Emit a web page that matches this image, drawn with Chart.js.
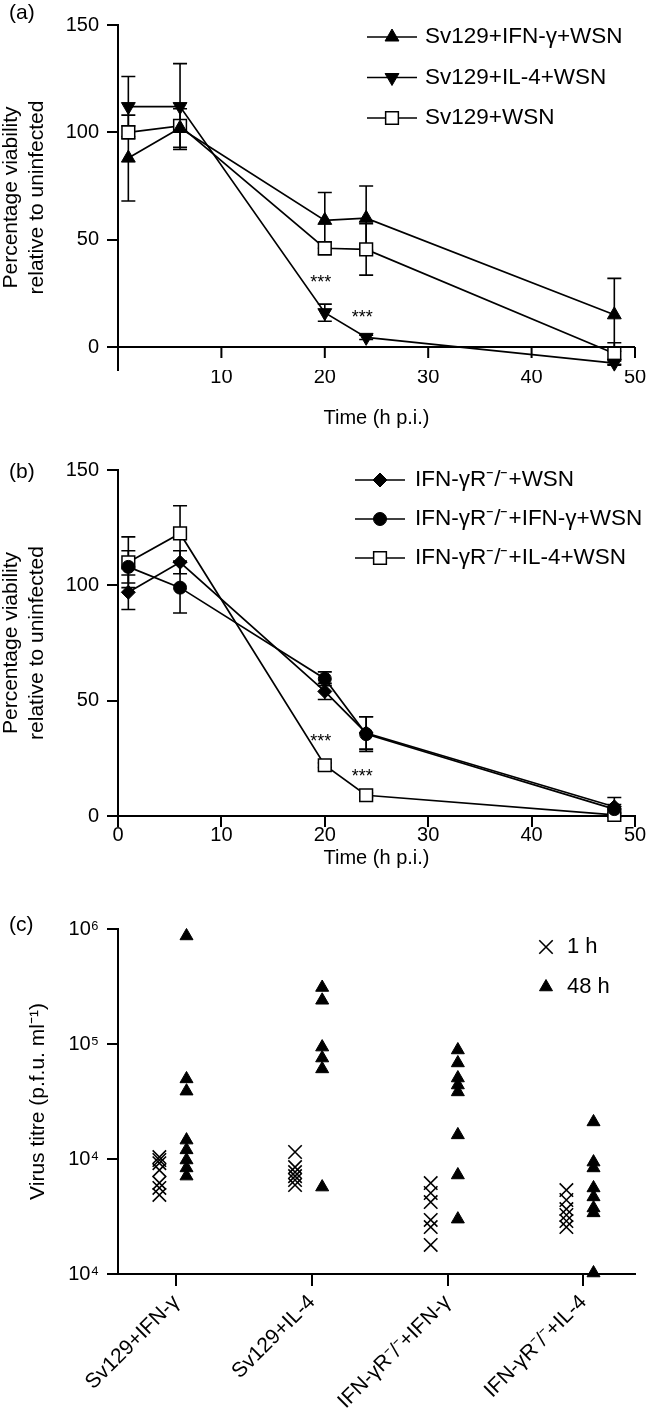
<!DOCTYPE html>
<html>
<head>
<meta charset="utf-8">
<title>Viability and virus titre</title>
<script src="https://cdn.jsdelivr.net/npm/chart.js@4.4.1/dist/chart.umd.min.js"></script>
<style>
  body { margin: 0; background: #fff; }
  canvas { display: block; }
</style>
</head>
<body>
<canvas id="chartA" width="646" height="440"></canvas>
<canvas id="chartB" width="646" height="440"></canvas>
<canvas id="chartC" width="646" height="533"></canvas>
<script>
// time points, h p.i.
const hours = [1, 6, 20, 24, 48];

// (a) Sv129 mice, % viability and SEM
const aIfng = [88, 102, 59, 60, 15];
const aIfngErr = [20, 9, 13, 15, 17];
const aIl4 = [112, 112, 16, 4.5, -7.5];
const aIl4Err = [14, 20, 4, 1, 1];
const aWsn = [100, 103, 46, 45.5, -3];
const aWsnErr = [3, 2, 3, 12, 5];
const aStars = [{x: 20, y: 30}, {x: 24, y: 13.5}];

// (b) IFN-gammaR-/- mice
const bWsn = [97, 110, 54, 36, 4];
const bWsnErr = [7.5, 5, 3.5, 7, 4];
const bIfng = [108, 99, 59.5, 35.5, 3];
const bIfngErr = [7, 11, 3, 7.5, 2];
const bIl4 = [110, 122.5, 22, 9, 0.5];
const bIl4Err = [11, 12, 1, 1, 1];
const bStars = [{x: 20, y: 32}, {x: 24, y: 17}];

const yTicks = [0, 50, 100, 150];
const xTicksA = [10, 20, 30, 40, 50];
const xTicksB = [0, 10, 20, 30, 40, 50];

// (c) virus titre, p.f.u. per ml
const groups = ['Sv129+IFN-γ', 'Sv129+IL-4', 'IFN-γR⁻/⁻+IFN-γ', 'IFN-γR⁻/⁻+IL-4'];
const titre1h = [
  [10400, 9800, 9200, 8000, 6200, 5600, 4870],
  [11500, 8500, 7700, 7100, 6570, 5940],
  [6180, 5060, 4220, 2950, 2560, 1790],
  [5370, 4400, 3670, 3260, 2890, 2560]
];
const titre48h = [
  [870000, 49700, 38900, 14600, 12000, 9800, 8360, 7100],
  [310000, 240000, 94000, 75500, 60700, 5700],
  [88700, 68400, 50600, 44000, 38300, 16200, 7260, 3000],
  [21000, 9400, 8360, 5600, 4680, 3750, 3400, 1020]
];
const logTicks = [1e3, 1e4, 1e5, 1e6];
const logLabels = ['10⁴', '10⁴', '10⁵', '10⁶'];

const black = '#000';
const fontFam = "'Liberation Sans', Arial, Helvetica, sans-serif";
Chart.defaults.font.family = fontFam;
Chart.defaults.color = black;
Chart.defaults.animation = false;

function toXY(xs, ys) {
  return xs.map((x, i) => ({x: x, y: ys[i]}));
}

function lineSet(label, ys, errs, style) {
  return Object.assign({
    label: label,
    data: toXY(hours, ys),
    errors: errs,
    showLine: true,
    borderColor: black,
    borderWidth: 1.7,
    pointBorderColor: black,
    pointBackgroundColor: black,
    pointBorderWidth: 1,
    clip: false
  }, style);
}

// error bars under the markers
const errorBars = {
  id: 'errorBars',
  beforeDatasetsDraw(chart, args, opts) {
    const {ctx, scales: {x, y}} = chart;
    ctx.save();
    ctx.strokeStyle = black;
    ctx.lineWidth = opts.lineWidth;
    chart.data.datasets.forEach(ds => {
      if (!ds.errors) return;
      ds.data.forEach((p, i) => {
        const e = ds.errors[i];
        if (!e) return;
        const px = x.getPixelForValue(p.x);
        const top = y.getPixelForValue(p.y + e);
        const bot = y.getPixelForValue(p.y - e);
        ctx.beginPath();
        ctx.moveTo(px, top); ctx.lineTo(px, bot);
        ctx.moveTo(px - opts.cap, top); ctx.lineTo(px + opts.cap, top);
        ctx.moveTo(px - opts.cap, bot); ctx.lineTo(px + opts.cap, bot);
        ctx.stroke();
      });
    });
    ctx.restore();
  }
};

// x axis line drawn at y = 0 (panel a)
const zeroLine = {
  id: 'zeroLine',
  afterDraw(chart, args, opts) {
    if (!opts.enabled) return;
    const {ctx, scales: {x, y}} = chart;
    const py = y.getPixelForValue(0);
    ctx.save();
    ctx.strokeStyle = black;
    ctx.lineWidth = 2;
    ctx.beginPath();
    ctx.moveTo(x.left, py);
    ctx.lineTo(x.right, py);
    x.ticks.forEach(t => {
      const px = x.getPixelForValue(t.value);
      ctx.moveTo(px, py);
      ctx.lineTo(px, py + opts.tickLength);
    });
    ctx.stroke();
    ctx.restore();
  }
};

// significance stars
const stars = {
  id: 'stars',
  afterDatasetsDraw(chart, args, opts) {
    if (!opts.items) return;
    const {ctx, scales: {x, y}} = chart;
    ctx.save();
    ctx.font = opts.size + 'px ' + fontFam;
    ctx.fillStyle = black;
    ctx.textAlign = 'center';
    ctx.textBaseline = 'middle';
    opts.items.forEach(s => {
      ctx.fillText('***', x.getPixelForValue(s.x) + opts.dx, y.getPixelForValue(s.y));
    });
    ctx.restore();
  }
};

// key inside the plot, line + marker + label
const keyBox = {
  id: 'keyBox',
  afterDraw(chart, args, opts) {
    if (!opts.x) return;
    const ctx = chart.ctx;
    ctx.save();
    ctx.font = opts.size + 'px ' + fontFam;
    ctx.textBaseline = 'middle';
    ctx.textAlign = 'left';
    chart.data.datasets.forEach((ds, i) => {
      const yy = opts.y + i * opts.gap;
      if (opts.half) {
        ctx.strokeStyle = black;
        ctx.lineWidth = ds.borderWidth;
        ctx.beginPath();
        ctx.moveTo(opts.x - opts.half, yy);
        ctx.lineTo(opts.x + opts.half, yy);
        ctx.stroke();
      }
      ctx.fillStyle = ds.pointBackgroundColor;
      ctx.strokeStyle = ds.pointBorderColor;
      ctx.lineWidth = ds.pointBorderWidth;
      Chart.helpers.drawPoint(ctx, {
        pointStyle: ds.pointStyle,
        rotation: ds.pointRotation || 0,
        radius: ds.pointRadius,
        borderWidth: ds.pointBorderWidth
      }, opts.x, yy);
      ctx.fillStyle = black;
      ctx.fillText(ds.label, opts.x + opts.textGap, yy);
    });
    ctx.restore();
  }
};

// (a) / (b) / (c) tags
const panelTag = {
  id: 'panelTag',
  afterDraw(chart, args, opts) {
    const ctx = chart.ctx;
    ctx.save();
    ctx.font = '21px ' + fontFam;
    ctx.fillStyle = black;
    ctx.textBaseline = 'middle';
    ctx.fillText(opts.text, opts.x, opts.y);
    ctx.restore();
  }
};

function viabilityY(min) {
  return {
    type: 'linear',
    min: min,
    max: 150,
    afterBuildTicks: s => { s.ticks = yTicks.map(v => ({value: v})); },
    afterFit: s => { s.width = 118; },
    ticks: {font: {size: 20}, padding: 8, color: black},
    grid: {drawOnChartArea: false, tickLength: 11, color: black, lineWidth: 2},
    border: {color: black, width: 2},
    title: {
      display: true,
      text: ['Percentage viability', 'relative to uninfected'],
      font: {size: 21, lineHeight: 1.2},
      padding: {top: -1, bottom: 0},
      color: black
    }
  };
}

function timeX(ticks, height, atZero) {
  return {
    type: 'linear',
    min: 0,
    max: 50,
    afterBuildTicks: s => { s.ticks = ticks.map(v => ({value: v})); },
    afterFit: s => { s.height = height; },
    ticks: {font: {size: 20}, padding: atZero ? -5 : -4, color: black},
    grid: atZero ? {display: false, drawTicks: false}
                 : {drawOnChartArea: false, tickLength: 11, color: black, lineWidth: 2},
    border: {display: !atZero, color: black, width: 2},
    title: {display: true, text: 'Time (h p.i.)', font: {size: 20}, padding: {top: 0, bottom: 10}, color: black}
  };
}

const commonPlugins = {
  legend: {display: false},
  tooltip: {enabled: false}
};

// ---------- (a)
new Chart(document.getElementById('chartA'), {
  type: 'scatter',
  data: {
    datasets: [
      lineSet('Sv129+IFN-γ+WSN', aIfng, aIfngErr, {pointStyle: 'triangle', pointRadius: 8}),
      lineSet('Sv129+IL-4+WSN', aIl4, aIl4Err, {pointStyle: 'triangle', pointRotation: 180, pointRadius: 8}),
      lineSet('Sv129+WSN', aWsn, aWsnErr, {pointStyle: 'rect', pointRadius: 9, pointBackgroundColor: '#fff', pointBorderWidth: 1.5})
    ]
  },
  options: {
    responsive: false,
    devicePixelRatio: 1,
    layout: {padding: {top: 25, right: 11, left: 0, bottom: 0}},
    scales: {x: timeX(xTicksA, 70, true), y: viabilityY(-10.7)},
    plugins: Object.assign({
      errorBars: {lineWidth: 1.6, cap: 7},
      zeroLine: {enabled: true, tickLength: 11},
      stars: {items: aStars, size: 18, dx: -4},
      keyBox: {x: 392, y: 37, gap: 40.5, half: 25, textGap: 33, size: 22.5},
      panelTag: {text: '(a)', x: 9, y: 13}
    }, commonPlugins)
  },
  plugins: [errorBars, zeroLine, stars, keyBox, panelTag]
});

// ---------- (b)
new Chart(document.getElementById('chartB'), {
  type: 'scatter',
  data: {
    datasets: [
      lineSet('IFN-γR⁻/⁻+WSN', bWsn, bWsnErr, {pointStyle: 'rectRot', pointRadius: 7}),
      lineSet('IFN-γR⁻/⁻+IFN-γ+WSN', bIfng, bIfngErr, {pointStyle: 'circle', pointRadius: 6.5}),
      lineSet('IFN-γR⁻/⁻+IL-4+WSN', bIl4, bIl4Err, {pointStyle: 'rect', pointRadius: 9, pointBackgroundColor: '#fff', pointBorderWidth: 1.5})
    ]
  },
  options: {
    responsive: false,
    devicePixelRatio: 1,
    layout: {padding: {top: 30, right: 11, left: 0, bottom: 0}},
    scales: {x: timeX(xTicksB, 64, false), y: viabilityY(0)},
    plugins: Object.assign({
      errorBars: {lineWidth: 1.6, cap: 7},
      zeroLine: {enabled: false},
      stars: {items: bStars, size: 18, dx: -4},
      keyBox: {x: 380, y: 40, gap: 39, half: 25, textGap: 35, size: 22.5},
      panelTag: {text: '(b)', x: 9, y: 32}
    }, commonPlugins)
  },
  plugins: [errorBars, zeroLine, stars, keyBox, panelTag]
});

// ---------- (c)
function groupPoints(lists, shift) {
  const pts = [];
  lists.forEach((vals, g) => {
    vals.forEach(v => pts.push({x: g + 1 + shift, y: v}));
  });
  return pts;
}

new Chart(document.getElementById('chartC'), {
  type: 'scatter',
  data: {
    datasets: [
      {label: '1 h', data: groupPoints(titre1h, -0.125), pointStyle: 'crossRot', pointRadius: 9.5,
       pointBorderColor: black, pointBackgroundColor: black, pointBorderWidth: 1.6, borderWidth: 1.6, clip: false},
      {label: '48 h', data: groupPoints(titre48h, 0.075), pointStyle: 'triangle', pointRadius: 7.5,
       pointBorderColor: black, pointBackgroundColor: black, pointBorderWidth: 1, borderWidth: 1, clip: false}
    ]
  },
  options: {
    responsive: false,
    devicePixelRatio: 1,
    layout: {padding: {top: 49, right: 6, left: 0, bottom: 0}},
    scales: {
      x: {
        type: 'linear',
        min: 0.57,
        max: 4.38,
        afterBuildTicks: s => { s.ticks = groups.map((g, i) => ({value: i + 1})); },
        afterFit: s => { s.height = 139; },
        ticks: {
          font: {size: 21}, padding: 4, color: black,
          autoSkip: false, minRotation: 45, maxRotation: 45,
          callback: v => groups[Math.round(v) - 1]
        },
        grid: {drawOnChartArea: false, tickLength: 12, color: black, lineWidth: 2},
        border: {color: black, width: 2}
      },
      y: {
        type: 'logarithmic',
        min: 1000,
        max: 1e6,
        afterBuildTicks: s => { s.ticks = logTicks.map(v => ({value: v})); },
        afterFit: s => { s.width = 118; },
        ticks: {font: {size: 20}, padding: 8, color: black, callback: (v, i) => logLabels[i]},
        grid: {drawOnChartArea: false, tickLength: 11, color: black, lineWidth: 2},
        border: {color: black, width: 2},
        title: {display: true, text: 'Virus titre (p.f.u. ml⁻¹)', font: {size: 21}, padding: {top: 26, bottom: 0}, color: black}
      }
    },
    plugins: Object.assign({
      keyBox: {x: 546, y: 67, gap: 40, half: 0, textGap: 21, size: 22},
      panelTag: {text: '(c)', x: 9, y: 45}
    }, commonPlugins)
  },
  plugins: [keyBox, panelTag]
});
</script>
</body>
</html>
